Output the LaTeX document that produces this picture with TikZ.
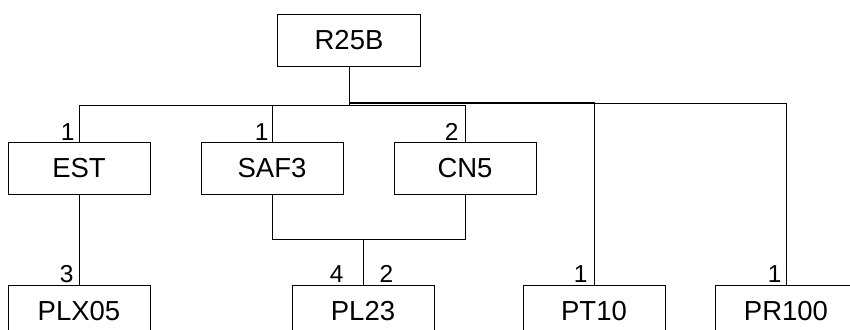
\documentclass[tikz,border=0pt]{standalone}
\usepackage{fontspec}
\setmainfont{Liberation Sans}
\begin{document}
\begin{tikzpicture}[x=1pt,y=-1pt,line width=1pt,
  box/.style={draw,line width=1pt,minimum width=142pt,minimum height=52pt,inner sep=0pt,font=\fontsize{27.5}{30}\selectfont},
  lbl/.style={inner sep=0pt,font=\fontsize{24.5}{27}\selectfont}]
\useasboundingbox (0,0) rectangle (850,329);
\clip (0,0) rectangle (850,329);
\fill[white] (0,0) rectangle (850,329);
\node[box,minimum width=143pt,minimum height=51pt] (R25B) at (349,40.5) {R25B};
\node[box] (EST) at (79,168) {EST};
\node[box] (SAF3) at (272,168) {SAF3};
\node[box] (CN5) at (465,168) {CN5};
\node[box] (PLX05) at (79,311) {PLX05};
\node[box] (PL23) at (363,311) {PL23};
\node[box] (PT10) at (594,311) {PT10};
\node[box] (PR100) at (786,311) {PR100};
\coordinate (busA) at (0,105);
\coordinate (busB) at (0,102);
\coordinate (busC) at (0,103.5);
\coordinate (joint) at (0,239);
\draw (R25B.south) -- (R25B.south |- busA) -| (EST.north);
\draw (R25B.south) -- (R25B.south |- busA) -| (SAF3.north);
\draw (R25B.south) -- (R25B.south |- busA) -| (CN5.north);
\draw (R25B.south) -- (R25B.south |- busB) -| (PT10.north);
\draw (R25B.south) -- (R25B.south |- busC) -| (PR100.north);
\draw (EST.south) -- (PLX05.north);
\draw (SAF3.south) -- (SAF3.south |- joint) -- (CN5.south |- joint) -- (CN5.south);
\draw (PL23.north) -- (PL23.north |- joint);
\node[lbl,anchor=base east] (l1) at (75,140) {1};
\node[lbl,anchor=base east] (l2) at (269,140) {1};
\node[lbl,anchor=base east] (l3) at (459,140) {2};
\node[lbl,anchor=base east] (l4) at (74,282) {3};
\node[lbl,anchor=base east] (l5) at (344,282) {4};
\node[lbl,anchor=base west] (l6) at (379,282) {2};
\node[lbl,anchor=base east] (l7) at (588,282) {1};
\node[lbl,anchor=base east] (l8) at (782,282) {1};
\end{tikzpicture}
\end{document}
